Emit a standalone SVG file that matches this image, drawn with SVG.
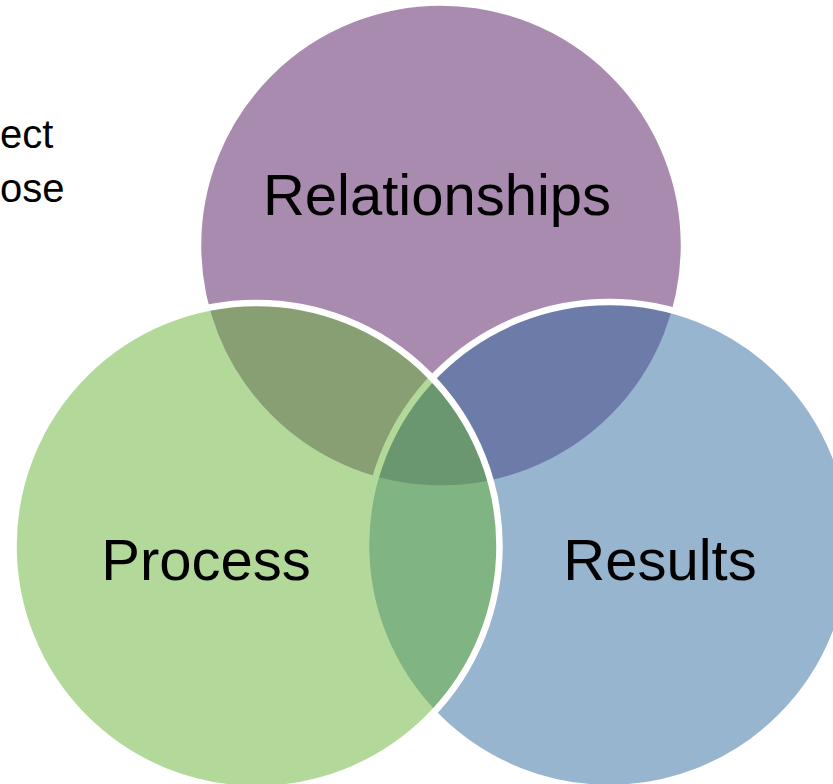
<svg xmlns="http://www.w3.org/2000/svg" width="833" height="784" viewBox="0 0 833 784">
<style>
.c{stroke:#FFFFFF;stroke-width:6.5}
.lbl{font-family:"Liberation Sans",Arial,sans-serif;font-size:58px;fill:#000000;text-anchor:middle}
.side{font-family:"Liberation Sans",Arial,sans-serif;font-size:40px;fill:#000000}
</style>
<rect width="833" height="784" fill="#FFFFFF"/>
<g id="side-text">
<text class="side" x="0" y="148">ect</text>
<text class="side" x="0" y="202">ose</text>
</g>
<g id="node-relationships">
<circle class="c" cx="441" cy="245.5" r="243" fill="#A98BB0"/>
<text class="lbl" x="437" y="215">Relationships</text>
</g>
<g id="node-results">
<circle class="c" cx="609" cy="545" r="243" fill="#316B9F" fill-opacity="0.5"/>
<text class="lbl" x="660" y="580">Results</text>
</g>
<g id="node-process">
<circle class="c" cx="256.5" cy="546" r="243" fill="#67B335" fill-opacity="0.5"/>
<text class="lbl" x="206" y="580">Process</text>
</g>
<g id="connectors"/>
</svg>
